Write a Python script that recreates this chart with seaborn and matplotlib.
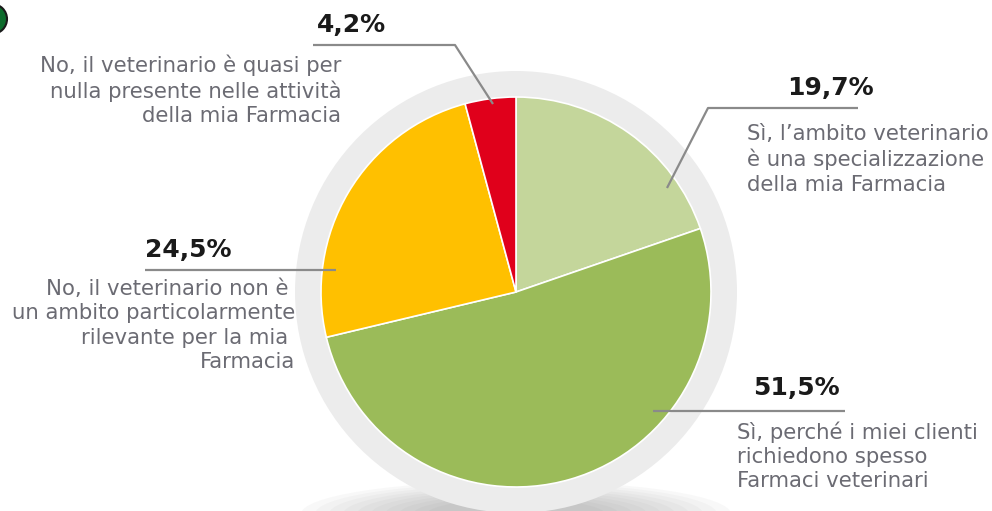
import matplotlib
matplotlib.use("Agg")
import matplotlib.pyplot as plt
import seaborn as sns
from matplotlib.patches import Circle, Ellipse

sns.set_style("white")
plt.rcParams["font.family"] = ["DejaVu Sans"]

# ---------------- DATA ----------------
shares = [19.7, 51.5, 24.5, 4.2]
pct_labels = ["19,7%", "51,5%", "24,5%", "4,2%"]
descriptions = [
    "Sì, l’ambito veterinario\nè una specializzazione\ndella mia Farmacia",
    "Sì, perché i miei clienti\nrichiedono spesso\nFarmaci veterinari",
    "No, il veterinario non è \nun ambito particolarmente\nrilevante per la mia \nFarmacia",
    "No, il veterinario è quasi per\nnulla presente nelle attività\ndella mia Farmacia",
]
colors = ["#c4d69b", "#9bbb59", "#ffc000", "#e0001b"]

# ---------------- FIGURE ----------------
W, H = 992, 511
fig = plt.figure(figsize=(W / 100, H / 100), dpi=100)
ax = fig.add_axes([0, 0, 1, 1])
ax.set_xlim(0, W)
ax.set_ylim(0, H)
ax.axis("off")

cx, cy, r = 516, H - 292, 195

# soft shadow under the ring (stacked translucent ellipses)
for i in range(10):
    ax.add_patch(Ellipse((cx, H - 514), 430 - i * 28, 66 - i * 4,
                         color="#6e6e6e", alpha=0.045, lw=0, zorder=0))
ax.add_patch(Circle((cx, cy), 221, color="#ececec", lw=0, zorder=1))

wedges, _ = ax.pie(shares, colors=colors, startangle=90, counterclock=False,
                   radius=r, center=(cx, cy),
                   wedgeprops=dict(edgecolor="white", linewidth=1.2))
for w in wedges:
    w.set_zorder(2)
ax.set_xlim(0, W)
ax.set_ylim(0, H)
ax.set_aspect("equal")

# small dark-green marker at top-left corner
ax.add_patch(Circle((-8, H - 19), 15, facecolor="#0d6b2c", edgecolor="#1a1a1a", lw=1.5, zorder=3))

line_kw = dict(color="#8a8a8a", lw=1.6, zorder=3, solid_capstyle="butt")
pct_kw = dict(fontsize=18, fontweight="bold", color="#1a1a1a", va="center", zorder=4)
desc_kw = dict(fontsize=15.3, color="#6b6b73", va="top", linespacing=1.27, zorder=4)

# leader lines: (polyline points in image px), label positions
leaders = [
    [(858, 108), (708, 108), (667, 188)],
    [(845, 411), (653, 411)],
    [(145, 270), (336, 270)],
    [(313, 45), (455, 45), (493, 104)],
]
pct_pos = [(830, 88, "center"), (796, 388, "center"), (188, 250, "center"), (352, 25, "center")]
desc_pos = [(747, 124, "left"), (737, 421, "left"), (295, 279, "right"), (341, 54, "right")]

for pts, (px, py, pha), (dx, dy, dha), pl, ds in zip(leaders, pct_pos, desc_pos, pct_labels, descriptions):
    xs = [p[0] for p in pts]
    ys = [H - p[1] for p in pts]
    ax.plot(xs, ys, **line_kw)
    ax.text(px, H - py, pl, ha=pha, **pct_kw)
    ax.text(dx, H - dy, ds, ha=dha, multialignment=dha, **desc_kw)

fig.savefig("out.png", dpi=100)
